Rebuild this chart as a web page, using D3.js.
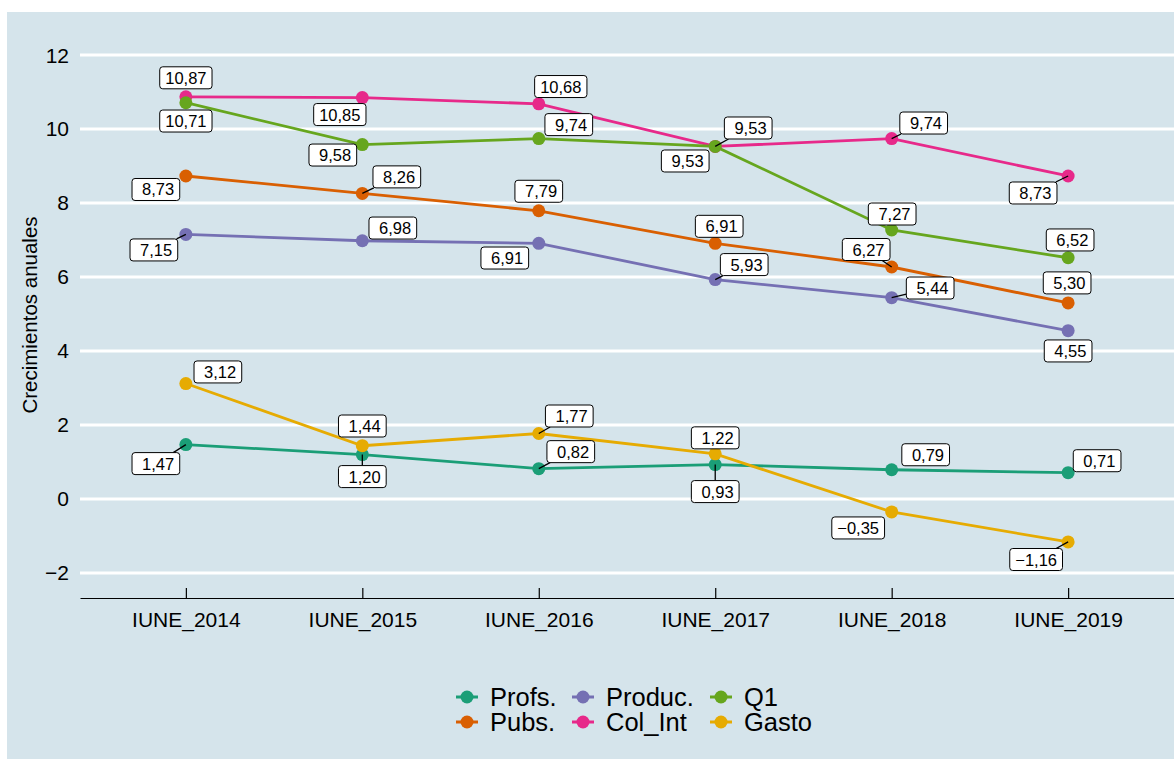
<!DOCTYPE html>
<meta charset='utf-8'>
<style>

body {
  margin: 0;
  background: #fff;
  font-family: 'Liberation Sans', Arial, sans-serif;
}

.grid line {
  stroke: #fff;
  stroke-width: 3;
}

.series path {
  fill: none;
  stroke-width: 2.8;
}

.labels rect {
  fill: #fff;
  stroke: #000;
  stroke-width: 1;
}

.labels text {
  font-size: 16.5px;
  white-space: pre;
}

.segs line {
  stroke: #000;
  stroke-width: 1.3;
}

</style>
<svg width='1174' height='759'></svg>

<script src='https://d3js.org/d3.v7.min.js'></script>

<script>

// data
var years = ['IUNE_2014', 'IUNE_2015', 'IUNE_2016', 'IUNE_2017', 'IUNE_2018', 'IUNE_2019'];
var seriesNames = ['Profs.', 'Pubs.', 'Produc.', 'Col_Int', 'Q1', 'Gasto'];
var profs  = [1.47, 1.20, 0.82, 0.93, 0.79, 0.71];
var pubs   = [8.73, 8.26, 7.79, 6.91, 6.27, 5.30];
var produc = [7.15, 6.98, 6.91, 5.93, 5.44, 4.55];
var colInt = [10.87, 10.85, 10.68, 9.53, 9.74, 8.73];
var q1     = [10.71, 9.58, 9.74, 9.53, 7.27, 6.52];
var gasto  = [3.12, 1.44, 1.77, 1.22, -0.35, -1.16];
var yTicks = [-2, 0, 2, 4, 6, 8, 10, 12];

// label placement (offset of box centre from point, px) and whether a leader line shows
var labelLayout = [
  [[-30, 19, 1], [0, 22, 1], [32, -17, 1], [0, 27, 1], [34, -15, 0], [29, -12, 0]],
  [[-30, 13.5, 0], [34.5, -16.5, 1], [0, -19.5, 0], [4, -17, 0], [-25.5, -17.5, 1], [-1, -20, 0]],
  [[-32, 15.5, 1], [30.5, -12.7, 0], [-34, 14.7, 0], [29, -15, 1], [38.5, -9.7, 1], [0, 20.3, 0]],
  [[0, -19, 0], [-22.5, 17, 0], [22, -17.3, 0], [33, -18.4, 1], [32, -15.6, 1], [-35, 17, 1]],
  [[0, 18.3, 0], [-29.5, 10.5, 0], [30, -14, 0], [-30, 14.6, 0], [0.5, -16, 0], [2, -17.8, 0]],
  [[32, -11.6, 0], [0, -19.7, 0], [30.5, -17.5, 1], [0, -16, 0], [-33.5, 16, 0], [-32, 17.6, 1]]
];

var svg = d3.select('svg'),
    width = +svg.attr('width'),
    height = +svg.attr('height'),
    color = d3.scaleOrdinal()
        .domain(seriesNames)
        .range(['#1b9e77', '#d95f02', '#7570b3', '#e7298a', '#66a61e', '#e6ab02']),
    x = d3.scalePoint().domain(years).range([80, 1174]).padding(0.6),
    y = d3.scaleLinear().domain([-2.676, 12]).range([598, 55]),
    fmt = function(v) {
        var s = d3.format('.2f')(Math.abs(v)).replace('.', ',');
        if (v < 0) return '\u2212' + s;
        return (v < 10 ? ' ' : '') + s;
    };

var allValues = [profs, pubs, produc, colInt, q1, gasto];
var series = seriesNames.map(function(name, i) {
    return {
        name: name,
        values: allValues[i].map(function(v, j) { return { year: years[j], value: v, lay: labelLayout[i][j] }; })
    };
});

// background
svg.append('rect')
    .attr('x', 7).attr('y', 12)
    .attr('width', width - 7).attr('height', height - 12)
    .attr('fill', '#d5e4eb');

// grid
svg.append('g')
    .attr('class', 'grid')
    .selectAll('line')
    .data(yTicks)
    .enter()
    .append('line')
    .attr('x1', 80).attr('x2', 1174)
    .attr('y1', function(d) { return y(d); })
    .attr('y2', function(d) { return y(d); });

// y tick labels
svg.append('g')
    .selectAll('text')
    .data(yTicks)
    .enter()
    .append('text')
    .attr('x', 69)
    .attr('y', function(d) { return y(d) + 7.5; })
    .attr('text-anchor', 'end')
    .attr('font-size', 21)
    .text(function(d) { return d < 0 ? '\u2212' + Math.abs(d) : d; });

// x axis (ticks point inward)
var xAxis = svg.append('g')
    .attr('transform', 'translate(0,598)')
    .call(d3.axisBottom(x).tickSizeInner(-10).tickSizeOuter(0).tickPadding(20));
xAxis.select('.domain').attr('stroke', '#000').attr('stroke-width', 1.2);
xAxis.selectAll('.tick line').attr('stroke', '#000').attr('stroke-width', 1.2);
xAxis.selectAll('.tick text')
    .attr('fill', '#000')
    .attr('font-size', 21)
    .attr('font-family', "'Liberation Sans', Arial, sans-serif")
    .attr('dy', '0.45em');

// y axis title
svg.append('text')
    .attr('transform', 'translate(37,315) rotate(-90)')
    .attr('text-anchor', 'middle')
    .attr('font-size', 20.5)
    .text('Crecimientos anuales');

var line = d3.line()
    .x(function(d) { return x(d.year); })
    .y(function(d) { return y(d.value); });

svg.append('g')
    .attr('class', 'series')
    .selectAll('path')
    .data(series)
    .enter()
    .append('path')
    .attr('stroke', function(d) { return color(d.name); })
    .attr('d', function(d) { return line(d.values); });

svg.append('g')
    .selectAll('g')
    .data(series)
    .enter()
    .append('g')
    .attr('fill', function(d) { return color(d.name); })
    .selectAll('circle')
    .data(function(d) { return d.values; })
    .enter()
    .append('circle')
    .attr('cx', function(d) { return x(d.year); })
    .attr('cy', function(d) { return y(d.value); })
    .attr('r', 6.5);

// labels
var flat = [];
series.forEach(function(s) { s.values.forEach(function(d) { flat.push(d); }); });

var segs = svg.append('g').attr('class', 'segs');
var labels = svg.append('g').attr('class', 'labels');

flat.forEach(function(d) {
    var px = x(d.year), py = y(d.value);
    var cx = px + d.lay[0], cy = py + d.lay[1];
    var g = labels.append('g');
    var t = g.append('text')
        .attr('x', cx)
        .attr('y', cy + 6)
        .attr('text-anchor', 'middle')
        .text(fmt(d.value));
    var w = t.node().getComputedTextLength() + 11, h = 22;
    g.insert('rect', 'text')
        .attr('x', cx - w / 2).attr('y', cy - h / 2)
        .attr('width', w).attr('height', h)
        .attr('rx', 3);
    if (d.lay[2]) {
        // line from point toward the box centre, stopping at the box edge
        var dx = cx - px, dy = cy - py;
        var tx = dx !== 0 ? (Math.abs(dx) - w / 2) / Math.abs(dx) : -1;
        var ty = dy !== 0 ? (Math.abs(dy) - h / 2) / Math.abs(dy) : -1;
        var f = Math.max(tx, ty);
        segs.append('line')
            .attr('x1', px).attr('y1', py)
            .attr('x2', px + dx * f).attr('y2', py + dy * f);
    }
});

// legend
var legend = svg.append('g')
    .selectAll('g')
    .data(seriesNames)
    .enter()
    .append('g')
    .attr('transform', function(d, i) {
        var col = Math.floor(i / 2), row = i % 2;
        return 'translate(' + [467, 583, 721][col] + ',' + (697 + row * 25) + ')';
    });

legend.append('line')
    .attr('x1', -11).attr('x2', 11)
    .attr('stroke', function(d) { return color(d); })
    .attr('stroke-width', 3);
legend.append('circle')
    .attr('r', 6.5)
    .attr('fill', function(d) { return color(d); });
legend.append('text')
    .attr('x', 23)
    .attr('y', 9)
    .attr('font-size', 25.5)
    .text(function(d) { return d; });

</script>
